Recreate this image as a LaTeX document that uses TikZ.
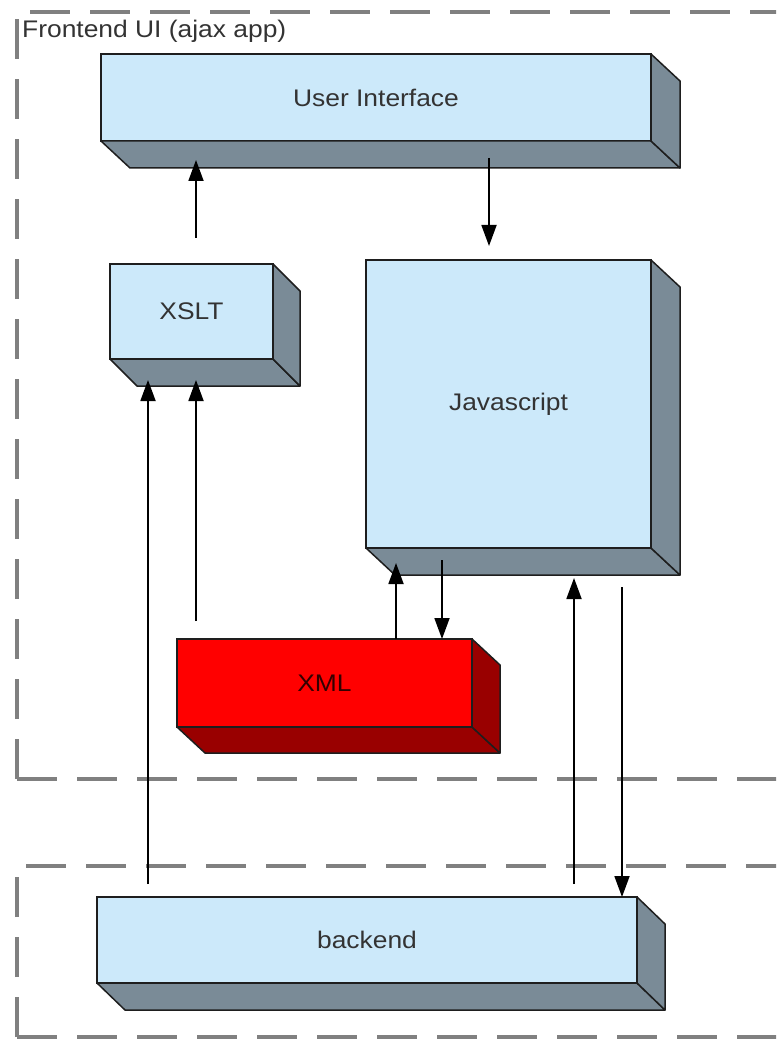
\documentclass[tikz,border=0pt]{standalone}
\usepackage{fontspec}
\setmainfont[FakeStretch=1.1]{Liberation Sans}
\usetikzlibrary{arrows.meta,calc}
\definecolor{facebl}{HTML}{CCE9FA}
\definecolor{depthbl}{HTML}{7A8B97}
\definecolor{facered}{HTML}{FF0000}
\definecolor{depthred}{HTML}{990000}
\definecolor{dashgr}{HTML}{808080}
\definecolor{txtgr}{HTML}{333333}
\definecolor{edgecol}{HTML}{1E1E1E}
\tikzset{
  boxnode/.style={draw=edgecol, line width=1.5pt, inner sep=0pt, outer sep=0pt,
    text=txtgr, font=\fontsize{24}{28}\selectfont},
  edgeline/.style={draw=edgecol, line width=1.5pt, line join=round},
  arr/.style={draw=black, line width=1.8pt, -{Triangle[width=15pt,length=21pt]}},
  dashbox/.style={draw=dashgr, line width=4pt, dash pattern=on 40pt off 20pt}
}
\newcommand{\boxdepth}[4]{%
  \filldraw[edgeline, fill=#4] (#1.south west) -- (#1.south east) -- ++(#2,#3)
     -- ($(#1.south west)+(#2,#3)$) -- cycle;
  \filldraw[edgeline, fill=#4] (#1.north east) -- ++(#2,#3)
     -- ($(#1.south east)+(#2,#3)$) -- (#1.south east) -- cycle;
}
\begin{document}
\begin{tikzpicture}[x=1pt,y=-1pt]
\useasboundingbox (0,0) rectangle (776,1040);
\clip (0,0) rectangle (776,1040);
\fill[white] (0,0) rectangle (776,1040);
% dashed groups
\draw[dashbox] (17,779) -- (17,12) -- (800,12);
\draw[dashbox] (17,779) -- (800,779);
\draw[dashbox] (17,1037) -- (17,866) -- (800,866);
\draw[dashbox] (17,1037) -- (800,1037);
\node[anchor=base west, inner sep=0pt, text=txtgr, font=\fontsize{24}{28}\selectfont] (flabel) at (22,38) {Frontend UI (ajax app)};
% boxes
\node[boxnode, fill=facebl, minimum width=550pt, minimum height=87pt] (ui) at (376,97.5) {User Interface};
\boxdepth{ui}{29}{27}{depthbl}
\node[boxnode, fill=facebl, minimum width=163pt, minimum height=95pt] (xslt) at (191.5,311.5) {XSLT};
\boxdepth{xslt}{27}{27}{depthbl}
\node[boxnode, fill=facebl, minimum width=285pt, minimum height=288pt] (js) at (508.5,404) {Javascript};
\boxdepth{js}{29}{27}{depthbl}
\node[boxnode, fill=facered, text=black!80!red, minimum width=295pt, minimum height=88pt] (xml) at (324.5,683) {XML};
\boxdepth{xml}{28}{26}{depthred}
\node[boxnode, fill=facebl, minimum width=540pt, minimum height=86pt] (backend) at (367,940) {backend};
\boxdepth{backend}{28}{27}{depthbl}
% connectors
\draw[arr] ($(xslt.north)+(4.5,-26)$) -- ($(ui.south west)+(95,19)$);
\draw[arr] ($(ui.south west)+(388,17)$) -- ($(js.north west)+(123,-14)$);
\draw[arr] ($(backend.north west)+(51,-13)$) -- ($(xslt.south west)+(38,21)$);
\draw[arr] ($(xml.north west)+(19,-18)$) -- ($(xslt.south west)+(86,21)$);
\draw[arr] ($(xml.north west)+(219,0)$) -- ($(js.south west)+(30,15)$);
\draw[arr] ($(js.south west)+(76,12)$) -- ($(xml.north west)+(265,0)$);
\draw[arr] ($(backend.north west)+(477,-13)$) -- ($(js.south west)+(208,30)$);
\draw[arr] ($(js.south west)+(256,39)$) -- ($(backend.north west)+(525,0)$);
\end{tikzpicture}
\end{document}
